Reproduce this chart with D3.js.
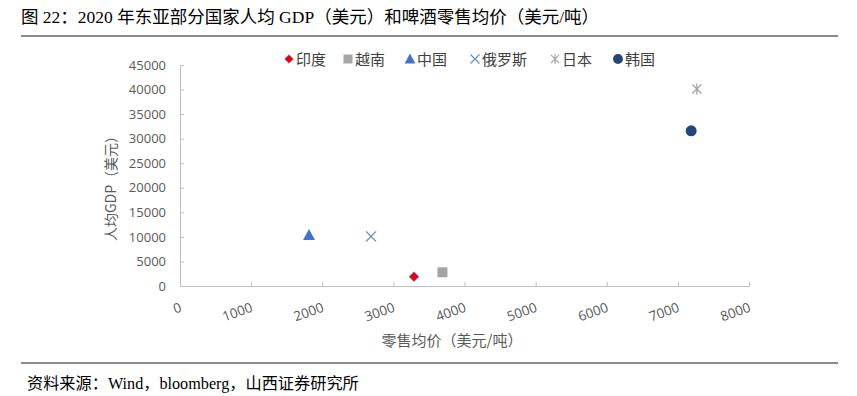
<!DOCTYPE html>
<html><head><meta charset="utf-8">
<script src="https://cdn.jsdelivr.net/npm/d3@7/dist/d3.min.js"></script>
<style>body{margin:0;background:#fff}svg{display:block}</style>
</head><body><svg id="c" width="857" height="396"></svg>
<script>
const countries = ["印度","越南","中国","俄罗斯","日本","韩国"];
const beerPrice = [3290, 3690, 1814, 2686, 7267, 7187];
const gdpPerCapita = [1900, 2790, 10400, 10100, 40100, 31600];
const symbolsKind = ["diamond","square","triangle","cross","asterisk","circle"];
const colors = ["#e8000b","#a5a5a5","#4472c4","#5b8fc9","#a5a5a5","#264478"];
const xTicks = [0,1000,2000,3000,4000,5000,6000,7000,8000];
const yTicks = [0,5000,10000,15000,20000,25000,30000,35000,40000,45000];

const svg = d3.select("#c");
const cjk = "'Noto Sans CJK SC','Noto Sans',sans-serif";
const serif = "'Liberation Serif','Noto Sans CJK SC',serif";

// title & rules
svg.append("text").attr("x",21).attr("y",23).attr("font-family",serif).attr("font-size",17.5).attr("fill","#000")
  .text("图 22：2020 年东亚部分国家人均 GDP（美元）和啤酒零售均价（美元/吨）");
svg.append("line").attr("x1",21).attr("x2",838).attr("y1",36).attr("y2",36).attr("stroke","#8c8c8c").attr("stroke-width",2);
svg.append("line").attr("x1",21).attr("x2",838).attr("y1",363).attr("y2",363).attr("stroke","#8c8c8c").attr("stroke-width",2);
svg.append("text").attr("x",27).attr("y",389).attr("font-family",serif).attr("font-size",16.2).attr("fill","#000")
  .text("资料来源：Wind，bloomberg，山西证券研究所");

const x = d3.scaleLinear().domain([0,8000]).range([180,749]);
const y = d3.scaleLinear().domain([0,45000]).range([286,65]);

const axisColor = "#bfbfbf";
const tickFont = "'Open Sans','Liberation Sans',sans-serif";
// x axis
const gx = svg.append("g").attr("transform","translate(0,286)")
  .call(d3.axisBottom(x).tickValues(xTicks).tickSize(-4).tickSizeOuter(0).tickFormat(d3.format("d")));
gx.select(".domain").attr("stroke",axisColor);
gx.selectAll(".tick line").attr("stroke",axisColor);
gx.selectAll(".tick text").attr("font-family",tickFont).attr("font-size",13.5).attr("fill","#595959")
  .attr("text-anchor","end").attr("dy",null).attr("y",0)
  .attr("transform","translate(2,25) rotate(-20)");

// y axis
const gy = svg.append("g").attr("transform","translate(180,0)")
  .call(d3.axisLeft(y).tickValues(yTicks).tickSize(-4).tickSizeOuter(0).tickFormat(d3.format("d")));
gy.select(".domain").attr("stroke",axisColor);
gy.selectAll(".tick line").attr("stroke",axisColor);
gy.selectAll(".tick text").attr("font-family",tickFont).attr("font-size",13).attr("fill","#595959")
  .attr("x",-14);

// axis titles
svg.append("text").attr("transform","translate(116,185) rotate(-90)").attr("text-anchor","middle")
  .attr("font-family",cjk).attr("font-size",14).attr("fill","#595959").text("人均GDP（美元）");
svg.append("text").attr("x",452).attr("y",346).attr("text-anchor","middle")
  .attr("font-family",cjk).attr("font-size",15).attr("fill","#595959").text("零售均价（美元/吨）");

function marker(g, kind, color){
  if(kind==="diamond"){
    g.append("path").attr("d",d3.symbol(d3.symbolDiamond2 || d3.symbolDiamond,60)()).attr("fill",color).attr("stroke","#4472c4").attr("stroke-width",0.6);
  } else if(kind==="square"){
    g.append("rect").attr("x",-5).attr("y",-5).attr("width",10).attr("height",10).attr("fill",color);
  } else if(kind==="triangle"){
    g.append("path").attr("d","M0,-6L6,5L-6,5Z").attr("fill",color);
  } else if(kind==="cross"){
    g.append("path").attr("d","M-5,-5L5,5M-5,5L5,-5").attr("stroke",color).attr("stroke-width",1.3).attr("fill","none");
  } else if(kind==="asterisk"){
    g.append("path").attr("d","M-4.5,-4.5L4.5,4.5M-4.5,4.5L4.5,-4.5M0,-5.5L0,5.5").attr("stroke",color).attr("stroke-width",1.3).attr("fill","none");
  } else if(kind==="circle"){
    g.append("circle").attr("r",5.5).attr("fill",color);
  }
}

// points
countries.forEach((c,i)=>{
  const g = svg.append("g").attr("transform",`translate(${x(beerPrice[i])},${y(gdpPerCapita[i])})`);
  marker(g, symbolsKind[i], colors[i]);
});

// legend
const legX = [289, 348, 410, 475, 555, 618];
countries.forEach((c,i)=>{
  const g = svg.append("g").attr("transform",`translate(${legX[i]},59)`);
  const m = g.append("g").attr("transform","scale(0.9)");
  marker(m, symbolsKind[i], colors[i]);
  g.append("text").attr("x",7).attr("y",5.5).attr("font-family",cjk).attr("font-size",15).attr("fill","#404040").text(c);
});
</script></body></html>
